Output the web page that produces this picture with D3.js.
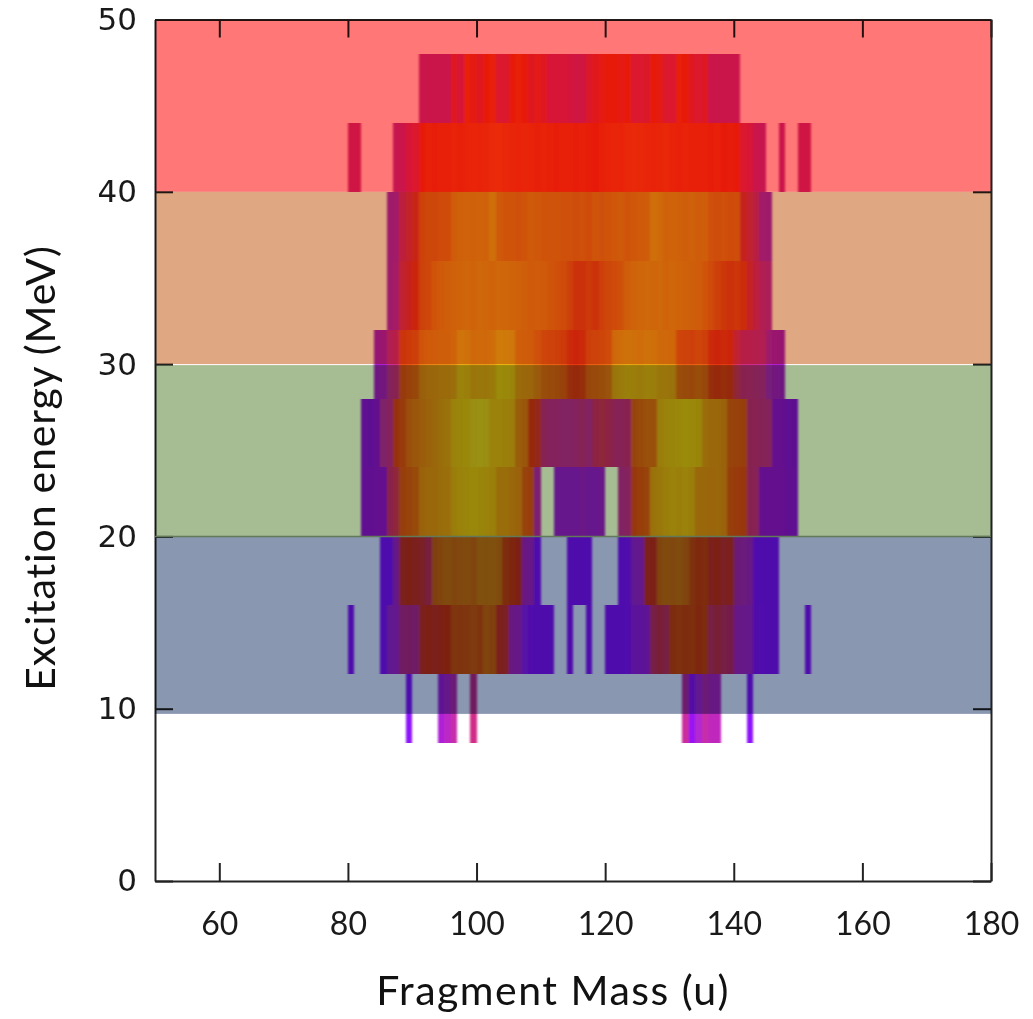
<!DOCTYPE html>
<meta charset="utf-8">
<style>
body {
  margin: 0;
  background: #fff;
}
.axis path,
.axis line {
  fill: none;
  stroke: #222;
  stroke-width: 2px;
}
.axis text {
  fill: #1a1a1a;
}
.xAxis text {
  font-family: Lato;
  font-size: 32px;
}
.yAxis text {
  font-family: "DejaVu Sans";
  font-size: 31px;
}
.axislabel {
  font-family: Lato;
  font-size: 41px;
  fill: #111;
}
.band {
  mix-blend-mode: multiply;
}
</style>
<body>
<div id="chart"></div>
<script src="https://d3js.org/d3.v7.min.js"></script>
<script>
// axis ticks
var massTicks = [60, 80, 100, 120, 140, 160, 180];
var energyTicks = [0, 10, 20, 30, 40, 50];

// shaded energy bands (MeV)
var bandLow = [40, 30, 20, 9.7];
var bandHigh = [50, 40, 30, 20];
var bandColors = ["#ff7777", "#e0a882", "#a6bd94", "#8a97b0"];

// colour palette of the intensity map (0 = low, 1 = high)
var paletteStops = [0, 0.2, 0.35, 0.5, 0.6, 0.75, 0.9, 1];
var paletteColors = ["#8200ff", "#9608f0", "#b919be", "#d41e69", "#e62800", "#eb6e00", "#ebaa00", "#ebd214"];

// heat map: each segment = energy row (lower edge, 4 MeV tall), first mass bin, intensity per 1 u bin
var segEnergy = [44, 40, 40, 40, 40, 36, 32, 28, 24, 20, 20, 20, 16, 16, 16, 12, 12, 12, 12, 12, 12, 8, 8, 8, 8, 8];
var segStart = [91, 80, 87, 147, 150, 86, 86, 84, 82, 82, 112, 122, 85, 114, 122, 80, 85, 114, 117, 120, 151, 89, 94, 99, 132, 142];
var segValues = [
  [.42, .42, .42, .42, .42, .55, .50, .62, .58, .55, .60, .62, .52, .52, .60, .62, .60, .55, .57, .55, .50, .50, .50, .48, .45,
   .46, .53, .56, .58, .60, .60, .58, .60, .52, .52, .53, .60, .58, .52, .52, .62, .60, .55, .52, .55, .42, .42, .42, .42, .42],
  [.45, .45],
  [.40, .42, .50, .52, .60, .62, .61, .63, .62, .64, .63, .64, .65, .64, .65, .67, .68, .66, .65, .64, .65, .64, .63, .64, .62,
   .61, .63, .62, .61, .62, .61, .60, .63, .64, .65, .64, .66, .67, .66, .65, .64, .65, .66, .64, .63, .64, .62, .63, .62, .61,
   .62, .60, .61, .60, .52, .50, .42, .40],
  [.42],
  [.45, .45],
  [.30, .32, .50, .54, .58, .70, .72, .72, .73, .73, .80, .82, .83, .82, .83, .82, .88, .79, .77, .77, .75, .77, .79, .78, .77,
   .76, .77, .75, .75, .74, .75, .73, .77, .75, .77, .78, .79, .77, .78, .79, .80, .88, .86, .82, .83, .82, .81, .82, .80, .81,
   .75, .74, .75, .73, .74, .56, .52, .48, .32, .30],
  [.30, .34, .52, .56, .60, .70, .72, .77, .79, .81, .82, .83, .84, .83, .85, .84, .83, .85, .84, .83, .82, .81, .79, .80, .79,
   .77, .75, .73, .69, .64, .64, .67, .64, .69, .72, .73, .75, .81, .83, .84, .85, .84, .85, .83, .84, .83, .82, .81, .80, .77,
   .73, .69, .66, .64, .66, .62, .55, .50, .42, .38],
  [.25, .28, .42, .46, .65, .67, .69, .77, .79, .80, .81, .81, .83, .90, .89, .85, .86, .85, .87, .93, .92, .91, .81, .80, .79,
   .75, .71, .70, .69, .67, .61, .60, .61, .69, .70, .71, .73, .85, .87, .89, .88, .87, .89, .88, .85, .85, .84, .71, .70, .69,
   .71, .69, .61, .60, .61, .60, .52, .46, .45, .44, .42, .30, .28, .26],
  [.06, .04, .15, .38, .42, .62, .65, .72, .74, .76, .78, .80, .82, .84, .90, .91, .92, .94, .95, .94, .90, .90, .89, .88, .76,
   .74, .60, .58, .45, .42, .42, .40, .40, .42, .44, .40, .50, .52, .50, .45, .44, .46, .68, .70, .72, .72, .88, .90, .91, .92,
   .93, .92, .91, .82, .80, .80, .78, .68, .67, .66, .46, .45, .44, .42, .16, .14, .05, .04],
  [.08, .08, .15, .16, .48, .52, .66, .68, .70, .78, .80, .80, .82, .83, .88, .90, .91, .92, .91, .90, .89, .82, .82, .80, .78,
   .68, .66, .35],
  [.20, .18, .20, .18, .22, .20, .18, .22],
  [.40, .42, .64, .66, .68, .84, .86, .88, .90, .89, .90, .88, .80, .80, .79, .80, .78, .66, .65, .64, .46, .44, .16, .15, .14,
   .15, .08, .07],
  [.05, .06, .35, .58, .59, .58, .57, .53, .72, .74, .76, .74, .75, .76, .74, .79, .78, .79, .77, .64, .61, .59, .36, .34, .05],
  [.05, .06, .06, .05],
  [.05, .08, .30, .32, .58, .59, .74, .76, .75, .77, .74, .66, .63, .64, .58, .59, .57, .58, .40, .38, .36, .06, .05, .05, .06],
  [.05],
  [.05, .30, .32, .45, .46, .44, .58, .59, .58, .59, .60, .68, .67, .68, .70, .67, .74, .72, .58, .57, .36, .34, .20, .08, .06,
   .05, .06],
  [.05],
  [.05],
  [.06, .05, .05, .08, .25, .26, .28, .52, .54, .52, .64, .66, .64, .65, .62, .64, .52, .54, .52, .51, .35, .34, .33, .10, .08,
   .06, .05],
  [.05],
  [.03],
  [.28, .34, .40],
  [.46],
  [.42, .15, .30, .40, .36, .36],
  [.03]
];

// build flat cell list from the segments
var cells = [];
segValues.forEach(function(vals, i) {
  vals.forEach(function(v, j) {
    cells.push({e: segEnergy[i], m: segStart[i] + j, v: v});
  });
});

var width = 1033, height = 1019;
var x = d3.scaleLinear().domain([50, 180]).range([155, 991]);
var y = d3.scaleLinear().domain([0, 50]).range([881, 19.5]);
var color = d3.scaleLinear().domain(paletteStops).range(paletteColors);

var svg = d3.select("#chart").append("svg")
    .attr("width", width)
    .attr("height", height);

svg.append("rect")
    .attr("width", width)
    .attr("height", height)
    .attr("fill", "#fff");

// soften the columns a little like the scanned original
var defs = svg.append("defs");
defs.append("filter")
    .attr("id", "soft")
    .attr("x", "-5%").attr("y", "-5%").attr("width", "110%").attr("height", "110%")
  .append("feGaussianBlur")
    .attr("stdDeviation", "1.1 0.4");

svg.append("g")
    .attr("filter", "url(#soft)")
    .attr("opacity", 0.92)
  .selectAll("rect")
    .data(cells)
  .enter().append("rect")
    .attr("x", function(d) { return x(d.m); })
    .attr("width", function(d) { return x(d.m + 1) - x(d.m); })
    .attr("y", function(d) { return y(d.e + 4); })
    .attr("height", function(d) { return y(d.e) - y(d.e + 4); })
    .attr("fill", function(d) { return color(d.v); })
    .attr("shape-rendering", "crispEdges");

// axes, ticks pointing inward on all four sides
svg.append("g")
    .attr("class", "axis xAxis")
    .attr("transform", "translate(0," + y(0) + ")")
    .call(d3.axisBottom(x).tickValues(massTicks).tickSizeInner(-18).tickSizeOuter(0).tickPadding(31));
svg.append("g")
    .attr("class", "axis")
    .attr("transform", "translate(0," + y(50) + ")")
    .call(d3.axisTop(x).tickValues(massTicks).tickSizeInner(-18).tickSizeOuter(0).tickFormat(""));
svg.append("g")
    .attr("class", "axis yAxis")
    .attr("transform", "translate(" + x(50) + ",0)")
    .call(d3.axisLeft(y).tickValues(energyTicks).tickSizeInner(-18).tickSizeOuter(0).tickPadding(18));
svg.append("g")
    .attr("class", "axis")
    .attr("transform", "translate(" + x(180) + ",0)")
    .call(d3.axisRight(y).tickValues(energyTicks).tickSizeInner(-18).tickSizeOuter(0).tickFormat(""));

// energy bands multiplied over the map
svg.append("g")
  .selectAll("rect")
    .data(bandLow)
  .enter().append("rect")
    .attr("class", "band")
    .attr("x", x(50))
    .attr("width", x(180) - x(50))
    .attr("y", function(d, i) { return y(bandHigh[i]) + (i == 2 ? 1 : 0); })
    .attr("height", function(d, i) { return y(d) - y(bandHigh[i]) - (i == 2 ? 1 : 0); })
    .attr("fill", function(d, i) { return bandColors[i]; });

svg.append("line")
    .attr("x1", x(50))
    .attr("x2", x(180))
    .attr("y1", y(20))
    .attr("y2", y(20))
    .attr("stroke", "#62795a")
    .attr("stroke-width", 1.5);

// axis titles
svg.append("text")
    .attr("class", "axislabel")
    .attr("x", 553)
    .attr("y", 1005)
    .style("text-anchor", "middle")
    .style("letter-spacing", "1.5px")
    .text("Fragment Mass (u)");
svg.append("text")
    .attr("class", "axislabel")
    .attr("transform", "translate(55,468) rotate(-90)")
    .style("text-anchor", "middle")
    .style("letter-spacing", "0.8px")
    .text("Excitation energy (MeV)");
</script>
</body>
